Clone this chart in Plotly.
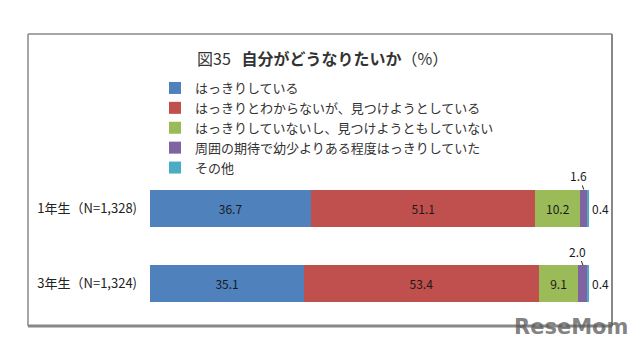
import plotly.graph_objects as go

categories = ["1年生（N=1,328)", "3年生（N=1,324)"]
series_names = [
    "はっきりしている",
    "はっきりとわからないが、見つけようとしている",
    "はっきりしていないし、見つけようともしていない",
    "周囲の期待で幼少よりある程度はっきりしていた",
    "その他",
]
values = [
    [36.7, 35.1],
    [51.1, 53.4],
    [10.2, 9.1],
    [1.6, 2.0],
    [0.4, 0.4],
]
colors = ["#4F81BD", "#C0504D", "#9BBB59", "#8064A2", "#4BACC6"]
inside_label = [True, True, True, False, False]

FONT = "Noto Sans CJK JP"

fig = go.Figure()
for name, vals, col, inside in zip(series_names, values, colors, inside_label):
    fig.add_trace(go.Bar(
        y=categories, x=vals, name=name, orientation="h",
        marker=dict(color=col, line=dict(width=0)),
        text=[f"{v:.1f}" for v in vals] if inside else None,
        textposition="inside" if inside else "none",
        insidetextanchor="middle",
        textfont=dict(size=12, color="#1a1a1a", family=FONT),
        hoverinfo="x+name",
    ))

annotations = []
for i, cat in enumerate(categories):
    cum = sum(values[k][i] for k in range(3))
    pv = values[3][i]
    annotations.append(dict(
        x=cum + pv / 2, y=i, xref="x", yref="y", yshift=18.5,
        text=f"{pv:.1f}", showarrow=True, arrowhead=0, arrowwidth=1,
        arrowcolor="#222222", ax=-5, ay=-14, standoff=0,
        font=dict(size=12, color="#1a1a1a", family=FONT),
    ))
    tot = cum + pv + values[4][i]
    annotations.append(dict(
        x=tot, y=i, xref="x", yref="y", xanchor="left", xshift=1,
        text=f"{values[4][i]:.1f}", showarrow=False,
        font=dict(size=12, color="#1a1a1a", family=FONT),
    ))

annotations.append(dict(
    x=322 / 638, y=1 - 58 / 352, xref="paper", yref="paper", xanchor="center", yanchor="middle",
    text="図35&nbsp;&nbsp;&nbsp;<b>自分がどうなりたいか</b>（%）", showarrow=False,
    font=dict(size=16, color="#333333", family=FONT),
))
annotations.append(dict(
    x=1 - 8 / 638, y=11 / 352, xref="paper", yref="paper", xanchor="right", yanchor="bottom",
    text="<b>ReseMom</b>", showarrow=False,
    font=dict(size=21, color="rgba(90,90,90,0.75)", family="DejaVu Sans"),
))

fig.update_layout(
    width=638, height=352,
    margin=dict(l=0, r=0, t=0, b=0),
    paper_bgcolor="white", plot_bgcolor="white",
    barmode="stack", bargap=0.51,
    showlegend=True,
    legend=dict(
        x=155 / 638, y=1 - 73 / 352, xanchor="left", yanchor="top",
        font=dict(size=13, color="#333333", family=FONT),
        traceorder="normal", tracegroupgap=0, itemwidth=30,
        bgcolor="rgba(0,0,0,0)",
    ),
    font=dict(family=FONT, color="#222222"),
    xaxis=dict(domain=[150 / 638, 589 / 638], range=[0, 100], showgrid=False,
               showticklabels=False, zeroline=False, showline=False, ticks=""),
    yaxis=dict(domain=[(352 - 321.25) / 352, (352 - 170.25) / 352],
               range=[1.5, -0.5], showgrid=False, zeroline=False, showline=False,
               ticks="", ticklabelstandoff=12,
               tickfont=dict(size=13, color="#222222", family=FONT)),
    annotations=annotations,
    shapes=[
        dict(type="line", xref="paper", yref="paper", x0=28 / 638, x1=612 / 638,
             y0=1 - 34 / 352, y1=1 - 34 / 352, line=dict(color="#888888", width=1.5)),
        dict(type="line", xref="paper", yref="paper", x0=28 / 638, x1=28 / 638,
             y0=1 - 34 / 352, y1=1 - 326 / 352, line=dict(color="#888888", width=1.5)),
        dict(type="line", xref="paper", yref="paper", x0=612 / 638, x1=612 / 638,
             y0=1 - 34 / 352, y1=1 - 326 / 352, line=dict(color="#888888", width=2)),
        dict(type="line", xref="paper", yref="paper", x0=28 / 638, x1=612 / 638,
             y0=1 - 326 / 352, y1=1 - 326 / 352, line=dict(color="#888888", width=3)),
    ],
)

fig.write_html("out.html")
